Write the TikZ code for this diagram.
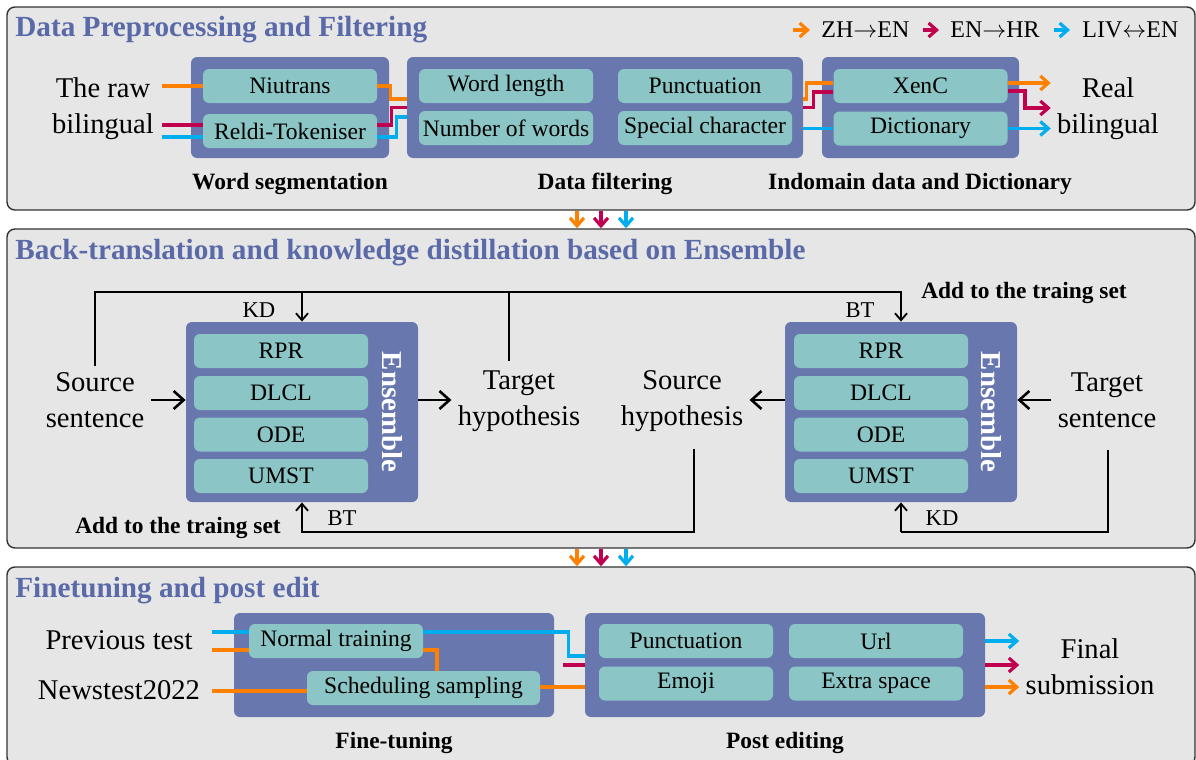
\documentclass[tikz,border=0pt]{standalone}
\usepackage{fontspec}
\setmainfont{Liberation Serif}
\usetikzlibrary{arrows.meta, calc}

\definecolor{panelgray}{HTML}{E6E6E6}
\definecolor{outerblue}{HTML}{6878AE}
\definecolor{innerteal}{HTML}{8CC5C6}
\definecolor{titleblue}{HTML}{5A6AA8}
\definecolor{zhorange}{HTML}{FF8000}
\definecolor{hrcrimson}{HTML}{C0004E}
\definecolor{livblue}{HTML}{00ADEF}

\begin{document}
\begin{tikzpicture}[x=0.5pt, y=-0.5pt,
  panel/.style={draw=black!80, fill=panelgray, line width=0.7pt, rounded corners=4pt, inner sep=0},
  outerbox/.style={fill=outerblue, rounded corners=3pt, inner sep=0},
  innerbox/.style={fill=innerteal, rounded corners=3pt, inner sep=0, minimum width=87pt, minimum height=17pt, font=\fontsize{11.8pt}{14pt}\selectfont},
  bigtxt/.style={align=center, inner sep=3pt, font=\fontsize{14.3pt}{18pt}\selectfont},
  steplabel/.style={font=\bfseries\fontsize{11.7pt}{14pt}\selectfont},
  paneltitle/.style={anchor=base west, inner sep=0, text=titleblue, font=\bfseries\fontsize{14.6pt}{17pt}\selectfont},
  ensemble/.style={rotate=-90, text=white, font=\bfseries\fontsize{14.4pt}{17pt}\selectfont},
  legtxt/.style={anchor=west, inner sep=0, font=\fontsize{12pt}{14pt}\selectfont},
  tiplabel/.style={font=\fontsize{11.3pt}{13pt}\selectfont},
  flowline/.style={line width=1.3pt, -{Straight Barb[length=5pt,width=9pt]}},
  fbline/.style={line width=0.9pt},
  fbtip/.style={-{Straight Barb[length=3.5pt,width=6pt]}},
  zhline/.style={draw=zhorange, line width=1.6pt},
  hrline/.style={draw=hrcrimson, line width=1.6pt},
  livline/.style={draw=livblue, line width=1.6pt},
  >={Straight Barb[length=4pt,width=7pt]}
]
\useasboundingbox (0,0) rectangle (1196,760);

% Paneles
\node[panel, minimum width=594pt, minimum height=101.5pt] (p1) at (601,108.5) {};
\node[panel, minimum width=594pt, minimum height=159.5pt] (p2) at (601,388.5) {};
\node[panel, minimum width=594pt, minimum height=99pt] (p3) at (601,666) {};

\node[paneltitle] (t1) at (15,36) {Data Preprocessing and Filtering};
\node[paneltitle] (t2) at (15,259) {Back-translation and knowledge distillation based on Ensemble};
\node[paneltitle] (t3) at (15,597) {Finetuning and post edit};

% Leyenda
\node[legtxt] (lgzh) at (821,30) {ZH$\rightarrow$EN};
\node[legtxt] (lghr) at (950,30) {EN$\rightarrow$HR};
\node[legtxt] (lgliv) at (1082,30) {LIV$\leftrightarrow$EN};
\draw[zhline,->] ($(lgzh.west)+(-28,0)$) -- ($(lgzh.west)+(-11,0)$);
\draw[hrline,->] ($(lghr.west)+(-27,0)$) -- ($(lghr.west)+(-11,0)$);
\draw[livline,->] ($(lgliv.west)+(-28,0)$) -- ($(lgliv.west)+(-12,0)$);

% Preprocesamiento
\node[outerbox, minimum width=99pt, minimum height=50.5pt] (ws) at (290,107.5) {};
\node[innerbox] (niu) at (290,86) {Niutrans};
\node[innerbox] (reldi) at (290,131) {Reldi-Tokeniser};
\node[steplabel] (wslbl) at (290,184) {Word segmentation};

\node[outerbox, minimum width=198pt, minimum height=50.5pt] (df) at (605,107.5) {};
\node[innerbox] (wlen) at (506,86) {Word length};
\node[innerbox] (nwords) at (506,128) {Number of words};
\node[innerbox] (punc) at (705,86) {Punctuation};
\node[innerbox] (spec) at (705,128) {Special character};
\node[steplabel] (dflbl) at (605,184) {Data filtering};

\node[outerbox, minimum width=98.5pt, minimum height=50.5pt] (idd) at (920.5,107.5) {};
\node[innerbox] (xenc) at (920.5,86) {XenC};
\node[innerbox] (dict) at (920.5,128.5) {Dictionary};
\node[steplabel] (idlbl) at (920,184) {Indomain data and Dictionary};

\node[bigtxt] (raw) at (103,109) {The raw\\bilingual};
\node[bigtxt] (real) at (1108,109) {Real\\bilingual};

\coordinate (rawzh) at (162,86);
\coordinate (rawhr) at (162,125);
\coordinate (rawliv) at (162,137);
\draw[zhline] (rawzh) -- (niu.west);
\draw[hrline] (rawhr) -- (rawhr -| reldi.west);
\draw[livline] (rawliv) -- (rawliv -| reldi.west);

\draw[zhline] (niu.east) -| ($(df.west)+(-16,-8.5)$) -- ($(df.west)+(0,-8.5)$);
\draw[hrline] (rawhr -| reldi.east) -| ($(df.west)+(-15,0)$) -- (df.west);
\draw[livline] (rawliv -| reldi.east) -| ($(df.west)+(-10,9.5)$) -- ($(df.west)+(0,9.5)$);

\draw[zhline] ($(df.east)+(0,-8.5)$) -| ($(xenc.west)+(-27,-3)$) -- ($(xenc.west)+(0,-3)$);
\draw[hrline] (df.east) -| ($(xenc.west)+(-20,6)$) -- ($(xenc.west)+(0,6)$);
\draw[livline] (df.east |- dict.west) -- (dict.west);

\coordinate (outzh) at ($(xenc.east)+(0,-3)$);
\coordinate (outhr) at ($(xenc.east)+(0,5)$);
\draw[zhline,->] (outzh) -- (outzh -| real.west);
\draw[hrline,->] (outhr) -- ++(17,0) |- ($(real.west)+(0,-1)$);
\draw[livline,->] (dict.east) -- (dict.east -| real.west);

% Flechas entre paneles
\foreach \clr/\dx in {zhline/-24, hrline/0, livline/25}{
  \draw[\clr,->] ($(p1.south)+(\dx,0)$) -- ($(p2.north)+(\dx,0)$);
  \draw[\clr,->] ($(p2.south)+(\dx,0)$) -- ($(p3.north)+(\dx,0)$);
}

% Ensembles
\node[outerbox, minimum width=116pt, minimum height=90pt] (ensl) at (302,412) {};
\node[outerbox, minimum width=116pt, minimum height=90pt] (ensr) at (901,412) {};
\foreach \m/\yy in {RPR/351, DLCL/393, ODE/434.5, UMST/476}{
  \node[innerbox] (l\m) at (281,\yy) {\m};
  \node[innerbox] (r\m) at (881,\yy) {\m};
}
\node[ensemble] (ensltxt) at (392,412) {Ensemble};
\node[ensemble] (ensrtxt) at (991,412) {Ensemble};

\node[bigtxt] (srcs) at (95,400) {Source\\sentence};
\node[bigtxt] (tgth) at (519,401) {Target\\hypothesis};
\node[bigtxt] (srch) at (682,401) {Source\\hypothesis};
\node[bigtxt] (tgts) at (1107,400) {Target\\sentence};

\draw[flowline] (srcs.east) -- (srcs.east -| ensl.west);
\draw[flowline] (ensl.east |- srcs.east) -- (tgth.west |- srcs.east);
\draw[flowline] (ensr.west |- srcs.east) -- (srch.east |- srcs.east);
\draw[flowline] (tgts.west) -- (tgts.west -| ensr.east);

% Realimentacion
\coordinate (topline) at (0,292);
\coordinate (botline) at (0,532);
\coordinate (tgthtop) at ($(tgth.north)+(-10,-3)$);
\coordinate (srchbot) at ($(srch.south)+(12,11)$);
\coordinate (tgtsbot) at ($(tgts.south)+(1,16)$);

\draw[fbline,fbtip] (srcs.north) |- (ensr.north |- topline) -- (ensr.north);
\draw[fbline,fbtip] (ensl.north |- topline) -- (ensl.north);
\draw[fbline] (tgthtop) -- (tgthtop |- topline);
\draw[fbline,fbtip] (srchbot) |- (ensl.south |- botline) -- (ensl.south);
\draw[fbline] (tgtsbot) |- (ensr.south |- botline);
\draw[fbline,fbtip] (ensr.south |- botline) -- (ensr.south);

\node[tiplabel] (kdl) at (259,310) {KD};
\node[tiplabel] (btr) at (860,310) {BT};
\node[tiplabel] (btl) at (342,518) {BT};
\node[tiplabel] (kdr) at (942,518) {KD};
\node[steplabel] (addr) at (1024,293) {Add to the traing set};
\node[steplabel] (addl) at (178,528) {Add to the traing set};

% Ajuste fino y postedicion
\node[outerbox, minimum width=160pt, minimum height=52pt] (ft) at (394,665) {};
\node[innerbox] (normal) at (336,641) {Normal training};
\node[innerbox, minimum width=116.5pt] (sched) at (423.5,688) {Scheduling sampling};
\node[steplabel] (ftlbl) at (394,743) {Fine-tuning};

\node[outerbox, minimum width=200pt, minimum height=52pt] (pe) at (785,665) {};
\node[innerbox] (pepunc) at (686,641) {Punctuation};
\node[innerbox] (peurl) at (876,641) {Url};
\node[innerbox] (peemoji) at (686,683.5) {Emoji};
\node[innerbox] (pespace) at (876,683.5) {Extra space};
\node[steplabel] (pelbl) at (785,743) {Post editing};

\node[bigtxt] (prev) at (119,640) {Previous test};
\node[bigtxt] (news) at (119,690) {Newstest2022};
\node[bigtxt] (final) at (1090,667) {Final\\submission};

\coordinate (prevliv) at (212,632);
\coordinate (prevzh) at (212,650);
\coordinate (newszh) at (212,691);
\coordinate (fthr) at (563,665);
\draw[livline] (prevliv) -- (prevliv -| normal.west);
\draw[livline] (prevliv -| normal.east) -| ($(pe.west)+(-16,-9)$) -- ($(pe.west)+(0,-9)$);
\draw[zhline] (prevzh) -- (prevzh -| normal.west);
\draw[zhline] (prevzh -| normal.east) -| ($(sched.north)+(13.5,0)$);
\draw[zhline] (newszh) -- (newszh -| sched.west);
\draw[zhline] ($(sched.east)+(0,-1)$) -- ($(pe.west)+(0,22)$);
\draw[hrline] (fthr) -- (pe.west);

\coordinate (outliv) at ($(pe.east)+(0,-24)$);
\coordinate (outzhb) at ($(pe.east)+(0,22)$);
\draw[livline,->] (outliv) -- (outliv -| final.west);
\draw[hrline,->] (pe.east) -- (pe.east -| final.west);
\draw[zhline,->] (outzhb) -- (outzhb -| final.west);

\end{tikzpicture}
\end{document}
